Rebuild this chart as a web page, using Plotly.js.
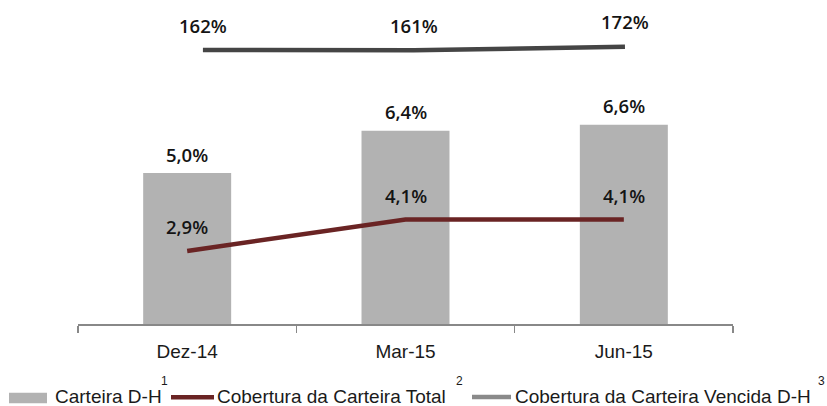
<!DOCTYPE html>
<html>
<head>
<meta charset="utf-8">
<script src="https://cdn.plot.ly/plotly-3.0.1.min.js"></script>
<style>html,body{margin:0;padding:0;background:#fff;}#chart{width:827px;height:406px;}</style>
</head>
<body>
<div id="chart"></div>
<script>
// ---- data ----
const categories = ['Dez-14', 'Mar-15', 'Jun-15'];
const carteiraDH = [5.0, 6.4, 6.6];            // bars (%)
const coberturaTotal = [2.9, 4.1, 4.1];         // dark red line (%)
const coberturaVencida = [162, 161, 172];       // top gray line (%)
const legendNames = ['Carteira D-H', 'Cobertura da Carteira Total', 'Cobertura da Carteira Vencida D-H'];
const legendNotes = ['1', '2', '3'];

// ---- styling / layout helpers ----
const L = 78, R = 733, T = 10, B = 324;
const W = 827, H = 406;
const px = x => (x - L) / (R - L);
const py = y => (B - y) / (B - T);
const fmt1 = v => v.toFixed(1).replace('.', ',') + '%';
const labelFont = {family: 'Open Sans', size: 18.5, color: '#141414', weight: 600};
const textFont = {family: 'Liberation Sans, Arial, sans-serif', size: 19, color: '#1a1a1a'};

const barColor = '#b2b2b2', redColor = '#6a2424', grayColor = '#454545', legendGray = '#8a8a8a';

const traces = [
  {type: 'bar', x: categories, y: carteiraDH, width: 0.403, marker: {color: barColor},
   xaxis: 'x', yaxis: 'y', hoverinfo: 'none', name: legendNames[0]},
  {type: 'scatter', mode: 'lines', x: categories, y: coberturaTotal,
   line: {color: redColor, width: 4.5}, xaxis: 'x', yaxis: 'y2', hoverinfo: 'none', name: legendNames[1], cliponaxis: false},
  {type: 'scatter', mode: 'lines', x: categories, y: coberturaVencida,
   line: {color: grayColor, width: 4.5}, xaxis: 'x2', yaxis: 'y3', hoverinfo: 'none', name: legendNames[2], cliponaxis: false}
];

const annotations = [];
categories.forEach((c, i) => {
  annotations.push({xref: 'x', yref: 'y', x: c, y: carteiraDH[i], text: fmt1(carteiraDH[i]),
    showarrow: false, yanchor: 'middle', yshift: 19, font: labelFont});
  annotations.push({xref: 'x', yref: 'y2', x: c, y: coberturaTotal[i], text: fmt1(coberturaTotal[i]),
    showarrow: false, yanchor: 'middle', yshift: 24, font: labelFont});
  annotations.push({xref: 'x2', yref: 'y3', x: c, y: coberturaVencida[i], text: coberturaVencida[i] + '%',
    showarrow: false, yanchor: 'middle', yshift: 25, font: labelFont});
});

// manual legend
const legendTextX = [53, 215, 513];
const noteX = [164, 459, 821];
legendNames.forEach((n, i) => {
  annotations.push({xref: 'paper', yref: 'paper', x: px(legendTextX[i]), y: py(396.5), text: n,
    showarrow: false, xanchor: 'left', yanchor: 'middle', font: textFont});
  annotations.push({xref: 'paper', yref: 'paper', x: px(noteX[i]), y: py(381), text: legendNotes[i],
    showarrow: false, xanchor: 'center', yanchor: 'middle', font: {family: textFont.family, size: 12, color: '#1a1a1a'}});
});

const shapes = [
  {type: 'rect', xref: 'paper', yref: 'paper', x0: px(9), x1: px(47), y0: py(403.3), y1: py(392.7),
   fillcolor: barColor, line: {width: 0}},
  {type: 'line', xref: 'paper', yref: 'paper', x0: px(171), x1: px(214), y0: py(397.3), y1: py(397.3),
   line: {color: redColor, width: 4.5}},
  {type: 'line', xref: 'paper', yref: 'paper', x0: px(472), x1: px(511), y0: py(397), y1: py(397),
   line: {color: legendGray, width: 4.5}}
];

const layout = {
  width: W, height: H,
  margin: {l: L, r: W - R, t: T, b: H - B, pad: 0},
  paper_bgcolor: '#ffffff', plot_bgcolor: '#ffffff',
  showlegend: false,
  xaxis: {type: 'category', range: [-0.5, 2.5], showline: true, linecolor: '#888888', linewidth: 2,
    ticks: 'outside', tickson: 'boundaries', ticklen: 7, tickwidth: 1.5, tickcolor: '#888888',
    ticklabelstandoff: 9,
    showgrid: false, zeroline: false, tickfont: textFont, fixedrange: true},
  yaxis: {range: [0, (B - T) / 30.2], visible: false, showgrid: false, zeroline: false, fixedrange: true},
  yaxis2: {range: [0.118, 12.08], overlaying: 'y', visible: false, showgrid: false, zeroline: false},
  xaxis2: {type: 'category', range: [-0.592, 2.512], overlaying: 'x', anchor: 'y3', visible: false,
    showgrid: false, zeroline: false},
  yaxis3: {range: [-668.3, 283.2], overlaying: 'y', anchor: 'x2', visible: false, showgrid: false, zeroline: false},
  annotations: annotations,
  shapes: shapes
};

Plotly.newPlot('chart', traces, layout, {staticPlot: true, displayModeBar: false});
</script>
</body>
</html>
